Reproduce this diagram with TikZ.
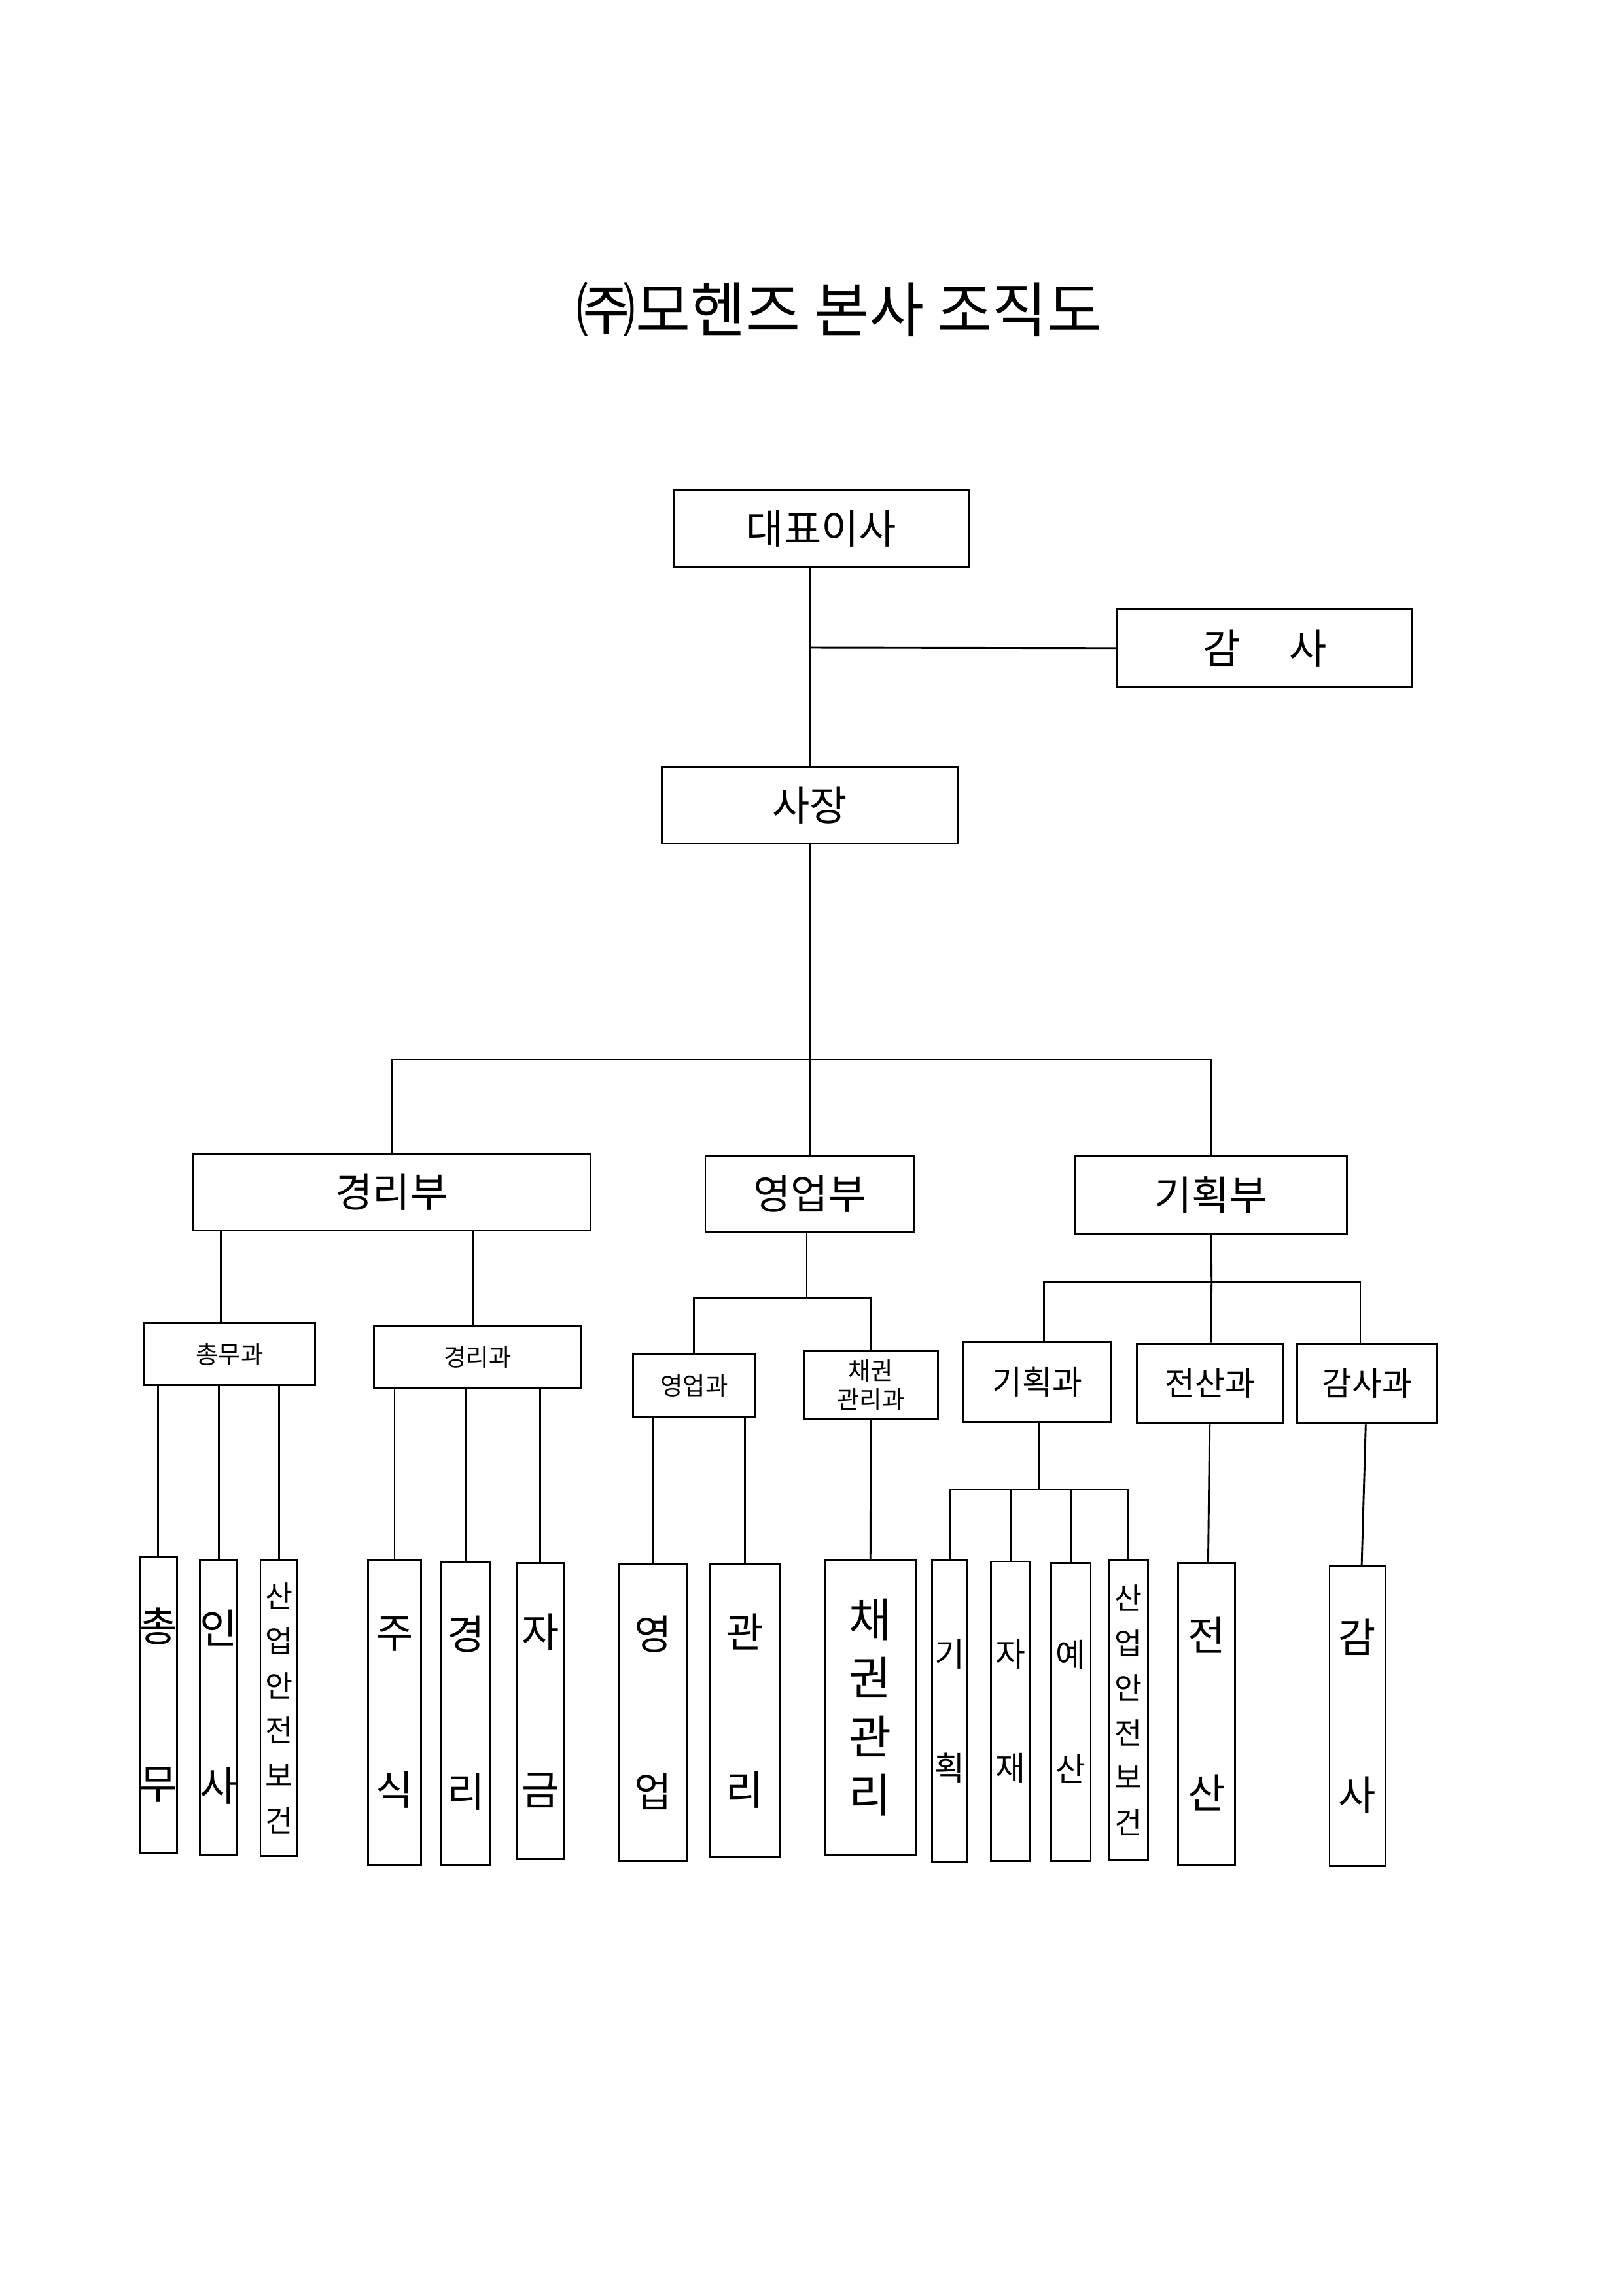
\documentclass[tikz,border=0pt]{standalone}
\usepackage{fontspec}
\setmainfont{Noto Sans CJK KR}
\newcommand{\twochar}[2]{#1\\[#2]}
\tikzset{
  box/.style={draw, line width=0.7pt, inner sep=0pt},
  link/.style={line width=0.7pt},
  leaf/.style={box, align=center, font=\fontsize{15}{18}\selectfont},
  stack/.style={box, align=center, font=\fontsize{11}{16.5}\selectfont}
}
\begin{document}
\begin{tikzpicture}[x=0.01904cm, y=-0.01904cm]
\useasboundingbox (0,0) rectangle (1103,1560);
\node[font=\fontsize{22}{26}\selectfont] (title) at (570,210) {㈜모헨즈 본사 조직도};

% top
\node[box, minimum width=3.81cm, minimum height=0.99cm, font=\fontsize{15}{18}\selectfont] (ceo) at (558,359) {대표이사};
\node[box, minimum width=3.81cm, minimum height=1.01cm, font=\fontsize{15}{18}\selectfont] (audit) at (859,440.5) {감\hspace{1.2em}사};
\node[box, minimum width=3.82cm, minimum height=0.99cm, font=\fontsize{15}{18}\selectfont] (pres) at (550,547) {사장};
\coordinate (tap) at (550,440);
\coordinate (bus) at (550,720);
\draw[link] (ceo.south -| tap) -- (pres.north -| tap);
\draw[link] (tap) -- (audit);
\draw[link] (pres.south -| bus) -- (bus);

% departments
\node[box, minimum width=5.14cm, minimum height=0.99cm, font=\fontsize{15}{18}\selectfont] (gyeongribu) at (266,810) {경리부};
\node[box, minimum width=2.70cm, minimum height=0.99cm, font=\fontsize{15}{18}\selectfont] (yeongeopbu) at (550,811) {영업부};
\node[box, minimum width=3.52cm, minimum height=1.00cm, font=\fontsize{15}{18}\selectfont] (gihoekbu) at (822.5,812) {기획부};
\draw[link] (bus) -| (gyeongribu);
\draw[link] (bus) -| (gihoekbu);
\draw[link] (bus) -- (yeongeopbu);

% sections
\node[box, minimum width=2.21cm, minimum height=0.80cm, font=\fontsize{9}{11}\selectfont] (chongmugwa) at (156,920) {총무과};
\node[box, minimum width=2.68cm, minimum height=0.80cm, font=\fontsize{9}{11}\selectfont] (gyeongrigwa) at (324.5,922) {경리과};
\node[box, minimum width=1.58cm, minimum height=0.82cm, font=\fontsize{9}{11}\selectfont] (yeongeopgwa) at (471.5,941.5) {영업과};
\node[box, minimum width=1.73cm, minimum height=0.88cm, align=center, font=\fontsize{9}{10.5}\selectfont] (chaegwongwa) at (591.5,941) {채권\\관리과};
\node[box, minimum width=1.92cm, minimum height=1.03cm, font=\fontsize{12}{14}\selectfont] (gihoekgwa) at (704.5,939) {기획과};
\node[box, minimum width=1.90cm, minimum height=1.03cm, font=\fontsize{12}{14}\selectfont] (jeonsangwa) at (822,940) {전산과};
\node[box, minimum width=1.81cm, minimum height=1.03cm, font=\fontsize{12}{14}\selectfont] (gamsagwa) at (928.5,940) {감사과};

\draw[link] (gyeongribu.south -| 150,0) -- (chongmugwa.north -| 150,0);
\draw[link] (gyeongribu.south -| 321,0) -- (gyeongrigwa.north -| 321,0);
\coordinate (ybus) at (548,882);
\draw[link] (yeongeopbu.south -| ybus) -- (ybus);
\draw[link] (yeongeopgwa) |- (ybus) -| (chaegwongwa);
\coordinate (gbus) at (823,871);
\draw[link] (gihoekbu) -- (gbus);
\draw[link] (gihoekgwa.north -| 709,0) |- (gbus) -| (gamsagwa.north -| 924,0);
\draw[link] (gbus) -- (jeonsangwa);

% teams
\node[leaf, minimum width=0.40cm, minimum height=3.83cm] (chongmu) at (107.5,1158.5) {\twochar{총}{40pt}무};
\node[leaf, minimum width=0.48cm, minimum height=3.81cm] (insa) at (148.5,1160) {\twochar{인}{40pt}사};
\node[stack, minimum width=0.48cm, minimum height=3.83cm] (sanup1) at (189.5,1160.5) {산\\업\\안\\전\\보\\건};
\node[leaf, minimum width=0.69cm, minimum height=3.94cm] (jusik) at (268,1163.5) {\twochar{주}{40pt}식};
\node[leaf, minimum width=0.63cm, minimum height=3.92cm] (gyeongri) at (316.5,1164) {\twochar{경}{40pt}리};
\node[leaf, minimum width=0.61cm, minimum height=3.83cm] (jageum) at (367,1162.5) {\twochar{자}{40pt}금};
\node[leaf, minimum width=0.89cm, minimum height=3.83cm] (yeongeop) at (443.5,1163.5) {\twochar{영}{40pt}업};
\node[leaf, minimum width=0.91cm, minimum height=3.79cm] (gwanri) at (506,1162.5) {\twochar{관}{40pt}리};
\node[box, align=center, font=\fontsize{17}{21.5}\selectfont, minimum width=1.18cm, minimum height=3.81cm] (chaegwon) at (591,1160) {채\\권\\관\\리};
\node[box, align=center, font=\fontsize{12}{14}\selectfont, minimum width=0.46cm, minimum height=3.90cm] (gihoek) at (645,1162.5) {\twochar{기}{28pt}획};
\node[box, align=center, font=\fontsize{12}{14}\selectfont, minimum width=0.51cm, minimum height=3.87cm] (jajae) at (686.5,1162.5) {\twochar{자}{28pt}재};
\node[box, align=center, font=\fontsize{12}{14}\selectfont, minimum width=0.51cm, minimum height=3.85cm] (yesan) at (727.5,1163) {\twochar{예}{28pt}산};
\node[stack, minimum width=0.51cm, minimum height=3.88cm] (sanup2) at (766.5,1162) {산\\업\\안\\전\\보\\건};
\node[leaf, minimum width=0.74cm, minimum height=3.90cm] (jeonsan) at (819.5,1164.5) {\twochar{전}{40pt}산};
\node[leaf, minimum width=0.72cm, minimum height=3.88cm] (gamsa) at (922,1166) {\twochar{감}{40pt}사};

\foreach \t in {chongmu,insa,sanup1}
  \draw[link] (\t) -- (\t |- chongmugwa.south);
\foreach \t in {jusik,gyeongri,jageum}
  \draw[link] (\t) -- (\t |- gyeongrigwa.south);
\foreach \t in {yeongeop,gwanri}
  \draw[link] (\t) -- (\t |- yeongeopgwa.south);
\draw[link] (chaegwon) -- (chaegwongwa);
\coordinate (tbus) at (706,1012);
\draw[link] (gihoekgwa.south -| tbus) -- (tbus);
\draw[link] (gihoek) |- (tbus) -| (sanup2);
\foreach \t in {jajae,yesan}
  \draw[link] (\t) -- (\t |- tbus);
\draw[link] (jeonsan) -- (jeonsangwa);
\draw[link] (gamsa) -- (gamsagwa);
\end{tikzpicture}
\end{document}
